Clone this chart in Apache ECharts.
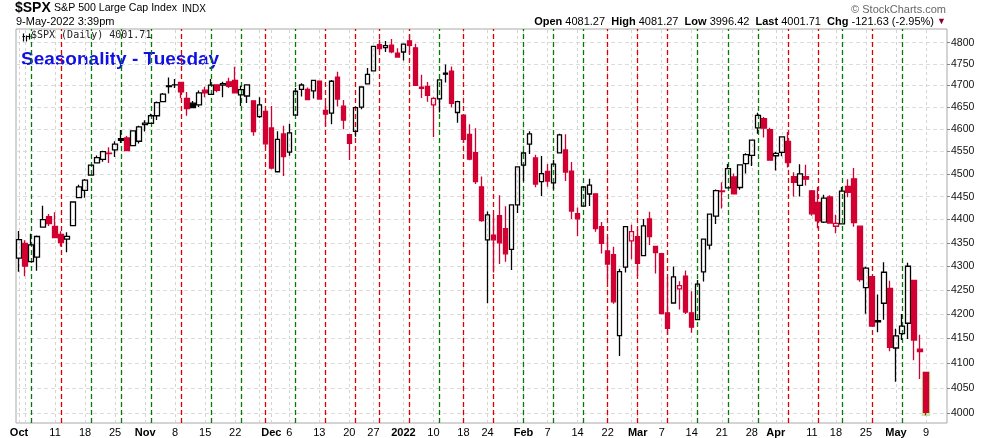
<!DOCTYPE html>
<html><head><meta charset="utf-8">
<script src="https://cdn.jsdelivr.net/npm/echarts@6/dist/echarts.min.js"></script>
<style>html,body{margin:0;padding:0;background:#fff}#c{width:990px;height:438px}</style>
</head><body><div id="c"></div>
<script>
const dates = [
'2021-10-01','2021-10-04','2021-10-05','2021-10-06','2021-10-07','2021-10-08','2021-10-11','2021-10-12','2021-10-13','2021-10-14','2021-10-15','2021-10-18','2021-10-19','2021-10-20','2021-10-21','2021-10-22','2021-10-25','2021-10-26','2021-10-27','2021-10-28','2021-10-29',
'2021-11-01','2021-11-02','2021-11-03','2021-11-04','2021-11-05','2021-11-08','2021-11-09','2021-11-10','2021-11-11','2021-11-12','2021-11-15','2021-11-16','2021-11-17','2021-11-18','2021-11-19','2021-11-22','2021-11-23','2021-11-24','2021-11-26','2021-11-29','2021-11-30',
'2021-12-01','2021-12-02','2021-12-03','2021-12-06','2021-12-07','2021-12-08','2021-12-09','2021-12-10','2021-12-13','2021-12-14','2021-12-15','2021-12-16','2021-12-17','2021-12-20','2021-12-21','2021-12-22','2021-12-23','2021-12-27','2021-12-28','2021-12-29','2021-12-30','2021-12-31',
'2022-01-03','2022-01-04','2022-01-05','2022-01-06','2022-01-07','2022-01-10','2022-01-11','2022-01-12','2022-01-13','2022-01-14','2022-01-18','2022-01-19','2022-01-20','2022-01-21','2022-01-24','2022-01-25','2022-01-26','2022-01-27','2022-01-28','2022-01-31',
'2022-02-01','2022-02-02','2022-02-03','2022-02-04','2022-02-07','2022-02-08','2022-02-09','2022-02-10','2022-02-11','2022-02-14','2022-02-15','2022-02-16','2022-02-17','2022-02-18','2022-02-22','2022-02-23','2022-02-24','2022-02-25','2022-02-28',
'2022-03-01','2022-03-02','2022-03-03','2022-03-04','2022-03-07','2022-03-08','2022-03-09','2022-03-10','2022-03-11','2022-03-14','2022-03-15','2022-03-16','2022-03-17','2022-03-18','2022-03-21','2022-03-22','2022-03-23','2022-03-24','2022-03-25','2022-03-28','2022-03-29','2022-03-30','2022-03-31',
'2022-04-01','2022-04-04','2022-04-05','2022-04-06','2022-04-07','2022-04-08','2022-04-11','2022-04-12','2022-04-13','2022-04-14','2022-04-18','2022-04-19','2022-04-20','2022-04-21','2022-04-22','2022-04-25','2022-04-26','2022-04-27','2022-04-28','2022-04-29',
'2022-05-02','2022-05-03','2022-05-04','2022-05-05','2022-05-06','2022-05-09'];

const open = [
4317.16,4348.84,4309.87,4319.57,4383.73,4406.51,4385.44,4368.31,4358.01,4386.75,4447.69,4463.72,4497.34,4524.42,4532.24,4546.12,4553.69,4578.69,4580.22,4562.84,4572.87,
4610.62,4613.34,4630.65,4662.93,4699.26,4701.48,4707.25,4670.26,4659.39,4655.24,4689.30,4679.42,4701.50,4700.72,4708.44,4712.00,4678.48,4675.78,4664.63,4628.75,4640.25,
4602.82,4504.73,4589.49,4548.37,4631.97,4690.86,4691.00,4687.64,4710.30,4642.99,4636.46,4719.13,4652.50,4587.90,4594.96,4650.36,4703.96,4733.99,4795.49,4788.64,4794.23,4775.21,
4778.14,4804.51,4787.99,4693.39,4697.66,4655.34,4669.14,4728.59,4733.56,4637.99,4632.24,4588.03,4547.35,4471.38,4356.32,4366.64,4408.43,4380.58,4336.19,4431.79,
4519.57,4566.39,4535.41,4482.79,4505.75,4480.02,4547.00,4553.24,4506.27,4412.61,4429.28,4455.75,4456.06,4384.57,4332.74,4324.93,4155.77,4298.38,4354.17,
4363.14,4322.56,4401.31,4342.12,4327.01,4202.66,4223.10,4252.55,4279.50,4202.75,4188.82,4288.14,4345.11,4407.34,4462.40,4469.10,4493.10,4469.98,4522.91,4541.09,4602.86,4624.20,4599.02,
4540.32,4547.97,4572.45,4494.17,4474.65,4494.15,4462.64,4437.59,4394.30,4449.12,4385.63,4390.63,4472.26,4489.17,4385.83,4255.34,4278.14,4186.52,4222.58,4253.75,
4130.61,4159.78,4181.18,4270.43,4128.17,4081.27];

const high = [
4375.19,4355.51,4369.23,4365.57,4429.97,4412.02,4415.88,4374.89,4372.87,4439.73,4475.82,4488.75,4520.40,4540.87,4551.44,4559.67,4572.62,4598.53,4584.57,4597.55,4608.08,
4620.34,4635.15,4663.46,4683.00,4718.50,4714.92,4708.53,4684.85,4664.55,4688.47,4697.42,4714.95,4701.50,4708.80,4717.75,4743.83,4699.39,4702.87,4664.63,4672.95,4646.02,
4652.94,4595.46,4608.03,4612.60,4694.04,4705.06,4695.26,4713.57,4710.30,4660.47,4712.60,4731.99,4666.70,4587.90,4651.14,4697.67,4740.74,4791.49,4807.02,4804.06,4808.93,4786.83,
4796.64,4818.62,4797.70,4725.01,4707.95,4673.02,4714.13,4748.83,4744.13,4665.13,4632.24,4611.55,4602.11,4494.52,4417.35,4411.01,4453.23,4428.74,4432.72,4516.89,
4550.49,4595.31,4542.88,4539.66,4521.86,4531.32,4590.03,4588.92,4526.33,4426.22,4472.77,4489.55,4456.06,4394.60,4362.12,4341.51,4294.73,4385.34,4388.84,
4378.45,4401.48,4416.78,4342.12,4327.01,4276.94,4299.40,4268.28,4291.01,4247.57,4271.05,4357.86,4412.67,4465.40,4481.75,4522.00,4501.07,4520.58,4546.03,4575.65,4637.30,4627.77,4603.07,
4548.70,4583.50,4593.45,4503.94,4521.16,4520.41,4464.35,4471.00,4453.92,4452.77,4410.31,4471.03,4488.29,4512.94,4385.83,4299.02,4278.14,4240.71,4308.45,4269.68,
4169.81,4200.10,4307.66,4270.43,4157.69,4081.27];

const low = [
4288.52,4278.94,4309.87,4290.49,4383.73,4386.22,4360.59,4342.09,4329.92,4386.75,4447.69,4447.47,4496.41,4524.40,4526.89,4524.00,4537.36,4569.17,4551.66,4562.84,4567.59,
4595.06,4613.34,4621.19,4662.59,4681.32,4694.39,4670.87,4630.86,4648.31,4650.77,4672.86,4679.42,4684.41,4672.78,4694.22,4682.17,4652.66,4659.89,4585.43,4625.26,4560.00,
4510.27,4504.73,4495.12,4540.51,4631.97,4674.52,4665.98,4670.24,4667.60,4606.52,4611.22,4651.89,4600.22,4531.10,4583.16,4645.53,4703.96,4733.99,4780.04,4778.08,4775.33,4765.75,
4758.17,4774.27,4699.44,4671.26,4662.74,4582.24,4638.27,4706.71,4650.29,4614.75,4568.70,4530.20,4477.95,4395.34,4222.62,4287.11,4304.80,4309.50,4292.46,4414.02,
4483.53,4544.32,4470.39,4451.50,4471.47,4465.40,4547.00,4484.31,4401.41,4364.84,4429.28,4429.68,4373.81,4327.22,4267.11,4221.51,4114.65,4286.83,4315.12,
4279.54,4322.56,4345.56,4284.98,4199.85,4157.87,4223.10,4209.80,4200.49,4161.72,4187.90,4267.91,4335.65,4390.57,4424.30,4469.10,4455.81,4465.17,4501.07,4517.69,4589.66,4581.32,4530.41,
4507.57,4539.21,4514.17,4450.04,4450.30,4474.60,4408.38,4381.34,4392.70,4390.84,4370.30,4390.63,4448.76,4384.47,4267.62,4200.82,4175.04,4162.90,4188.63,4124.28,
4062.51,4147.08,4148.91,4106.01,4067.91,3996.42];

const close = [
4357.04,4300.46,4345.72,4363.55,4399.76,4391.34,4361.19,4350.65,4363.80,4438.26,4471.37,4486.46,4519.63,4536.19,4549.78,4544.90,4566.48,4574.79,4551.68,4596.42,4605.38,
4613.67,4630.65,4660.57,4680.06,4697.53,4701.70,4685.25,4646.71,4649.27,4682.85,4682.80,4700.90,4688.67,4704.54,4697.96,4682.94,4690.70,4701.46,4594.62,4655.27,4567.00,
4513.04,4577.10,4538.43,4591.67,4686.75,4701.21,4667.45,4712.02,4668.97,4634.09,4709.85,4668.67,4620.64,4568.02,4649.23,4696.56,4725.79,4791.19,4786.35,4793.06,4778.73,4766.18,
4796.56,4793.54,4700.58,4696.05,4677.03,4670.29,4713.07,4726.35,4659.03,4662.85,4577.11,4532.76,4482.73,4397.94,4410.13,4356.45,4349.93,4326.51,4431.85,4515.55,
4546.54,4589.38,4477.44,4500.53,4483.87,4521.54,4587.18,4504.08,4418.64,4401.67,4471.07,4475.01,4380.26,4348.87,4304.76,4225.50,4288.70,4384.65,4373.94,
4306.26,4386.54,4363.49,4328.87,4201.09,4170.70,4277.88,4259.52,4204.31,4173.11,4262.45,4357.86,4411.67,4463.12,4461.18,4511.61,4456.24,4520.16,4543.06,4575.52,4631.60,4602.45,4530.41,
4545.86,4582.64,4525.12,4481.15,4500.21,4488.28,4412.53,4397.45,4446.59,4392.59,4391.69,4462.21,4459.45,4393.66,4271.78,4296.12,4175.20,4183.96,4287.50,4131.93,
4155.38,4175.48,4300.17,4146.87,4123.34,4001.71];

const prevClose0 = 4307.54; // close before the first bar
const yTicks = [4000,4050,4100,4150,4200,4250,4300,4350,4400,4450,4500,4550,4600,4650,4700,4750,4800];
const yMin = 3981, yMax = 4832.5;

const labelDates = ['2021-10-01','2021-10-11','2021-10-18','2021-10-25','2021-11-01','2021-11-08','2021-11-15','2021-11-22','2021-12-01','2021-12-06','2021-12-13','2021-12-20','2021-12-27','2022-01-03','2022-01-10','2022-01-18','2022-01-24','2022-02-01','2022-02-07','2022-02-14','2022-02-22','2022-03-01','2022-03-07','2022-03-14','2022-03-21','2022-03-28','2022-04-01','2022-04-11','2022-04-18','2022-04-25','2022-05-02','2022-05-09'];
const labelTexts = ['Oct','11','18','25','Nov','8','15','22','Dec','6','13','20','27','2022','10','18','24','Feb','7','14','22','Mar','7','14','21','28','Apr','11','18','25','May','9'];

// colour of each Tuesday marker line, in date order (G = green, R = red)
const tuesdayColors = ['G','R','G','G','G','R','G','G','R','G','R','R','R','R','G','R','R','G','G','G','R','R','R','G','G','G','R','R','G','R','G'];

const padSlots = ['pad1','pad2','pad3'];

const RED = '#d20032', BLK = '#000000';
const GL = '#007c00', RL = '#de0000';
const cats = dates.concat(padSlots);
const n = dates.length, last = n - 1;

const candleData = dates.map((d, i) => {
  const o = open[i], c = close[i], pc = i > 0 ? close[i - 1] : prevClose0;
  const col = c >= pc ? BLK : RED;
  const fill = c > o ? 'rgba(255,255,255,0)' : col;
  return { value: [Math.log(o), Math.log(c), Math.log(low[i]), Math.log(high[i])],
           itemStyle: { color: fill, color0: fill, borderColor: col, borderColor0: col } };
});
const hlData = cats.map((d, i) => i === last ? [Math.log(open[i]), Math.log(low[i]), Math.log(low[i]), Math.log(open[i])] : '-');

// vertical gray gridlines: first trading day of each week and each month
const dow = s => new Date(s + 'T00:00:00Z').getUTCDay();
const gridLines = [];
dates.forEach((d, i) => {
  if (i === 0 || dow(d) < dow(dates[i - 1]) || d.slice(5, 7) !== dates[i - 1].slice(5, 7)) {
    gridLines.push({ xAxis: d, lineStyle: { color: '#d4d4d4', type: [3, 3], width: 1 } });
  }
});
const tues = dates.filter(d => dow(d) === 2);
const tueLines = tues.map((d, k) => ({ xAxis: d, lineStyle: { color: tuesdayColors[k] === 'G' ? GL : RL, type: [5, 3], width: 1.3 } }));

const labelMap = {};
labelDates.forEach((d, k) => { labelMap[d] = labelTexts[k]; });

const fmt = v => v.toFixed(2);
const chg = close[last] - close[last - 1];
const pct = chg / close[last - 1] * 100;
const FF = '"Liberation Sans", Arial, sans-serif';

const chart = echarts.init(document.getElementById('c'), null, { renderer: 'canvas' });
chart.setOption({
  animation: false,
  backgroundColor: '#ffffff',
  grid: { left: 16, right: 43, top: 29, bottom: 15, show: true, borderColor: '#a9a9a9', borderWidth: 1, backgroundColor: 'rgba(0,0,0,0)' },
  xAxis: {
    type: 'category', data: cats, boundaryGap: true,
    axisLine: { show: false }, axisTick: { show: false }, splitLine: { show: false },
    axisLabel: {
      interval: (i, v) => labelMap[v] !== undefined,
      formatter: v => { const t = labelMap[v]; if (t === undefined) return ''; return (isNaN(Number(t)) || t.length === 4) ? '{b|' + t + '}' : '{n|' + t + '}'; },
      margin: 4,
      rich: { b: { fontFamily: FF, fontWeight: 'bold', fontSize: 11, color: '#000' }, n: { fontFamily: FF, fontSize: 11, color: '#000' } }
    }
  },
  yAxis: {
    type: 'value', position: 'right', min: Math.log(yMin), max: Math.log(yMax),
    axisLine: { show: false },
    axisTick: { show: true, length: 3, lineStyle: { color: '#888' }, customValues: yTicks.map(v => Math.log(v)) },
    axisLabel: { customValues: yTicks.map(v => Math.log(v)), formatter: v => String(Math.round(Math.exp(v))), margin: 4, fontFamily: FF, fontSize: 10.5, color: '#111' },
    splitLine: { show: true, lineStyle: { color: '#dcdcdc', type: [4, 3], width: 1 } }
  },
  series: [
    { type: 'candlestick', data: hlData, barWidth: 7, z: 2, silent: true,
      itemStyle: { color: '#c4f2b0', color0: '#c4f2b0', borderColor: '#b8ee9e', borderColor0: '#b8ee9e', borderWidth: 1.5 } },
    { type: 'candlestick', data: candleData, barWidth: 5, z: 3, silent: true,
      itemStyle: { borderWidth: 1.3 },
      markLine: { silent: true, z: 1, symbol: ['none', 'none'], label: { show: false }, emphasis: { disabled: true },
        data: gridLines.concat(tueLines) } }
  ],
  graphic: [
    { type: 'text', left: 15, top: 1, style: { text: '$SPX', font: 'bold 14px ' + FF, fill: '#000' } },
    { type: 'text', left: 54, top: 3, style: { text: 'S&P 500 Large Cap Index', font: '10.6px ' + FF, fill: '#000' } },
    { type: 'text', left: 182, top: 4, style: { text: 'INDX', font: '10px ' + FF, fill: '#000' } },
    { type: 'text', left: 16, top: 16, style: { text: '9-May-2022 3:39pm', font: '11px ' + FF, fill: '#000' } },
    { type: 'text', right: 44, top: 4, style: { text: '\u00a9 StockCharts.com', font: '11px ' + FF, fill: '#666' } },
    { type: 'text', right: 44, top: 16, style: {
        text: '{b|Open} ' + fmt(open[last]) + '  {b|High} ' + fmt(high[last]) + '  {b|Low} ' + fmt(low[last]) + '  {b|Last} ' + fmt(close[last]) + '  {b|Chg} ' + fmt(chg) + ' (' + fmt(pct) + '%) {t|\u25bc}',
        font: '11px ' + FF, fill: '#000',
        rich: { b: { font: 'bold 11px ' + FF, fill: '#000' }, t: { font: '9px ' + FF, fill: '#8a0028' } } } },
    { type: 'group', left: 20, top: 31, children: [
        { type: 'line', shape: { x1: 1, y1: 0, x2: 1, y2: 8 }, style: { stroke: '#000', lineWidth: 1.2 } },
        { type: 'line', shape: { x1: 4, y1: 2, x2: 4, y2: 8 }, style: { stroke: '#000', lineWidth: 1.2 } },
        { type: 'line', shape: { x1: 7, y1: 0, x2: 7, y2: 6 }, style: { stroke: '#000', lineWidth: 1.2 } },
        { type: 'line', shape: { x1: 0, y1: 3, x2: 8, y2: 3 }, style: { stroke: '#000', lineWidth: 1 } }
    ] },
    { type: 'text', left: 31, top: 30, style: { text: '$SPX (Daily) ' + fmt(close[last]), font: '10px "DejaVu Sans Mono", monospace', fill: '#222' } },
    { type: 'text', left: 21, top: 50, style: { text: 'Seasonality - Tuesday', font: 'bold 19px ' + FF, fill: '#1010e6' } }
  ]
});
</script>
</body></html>
